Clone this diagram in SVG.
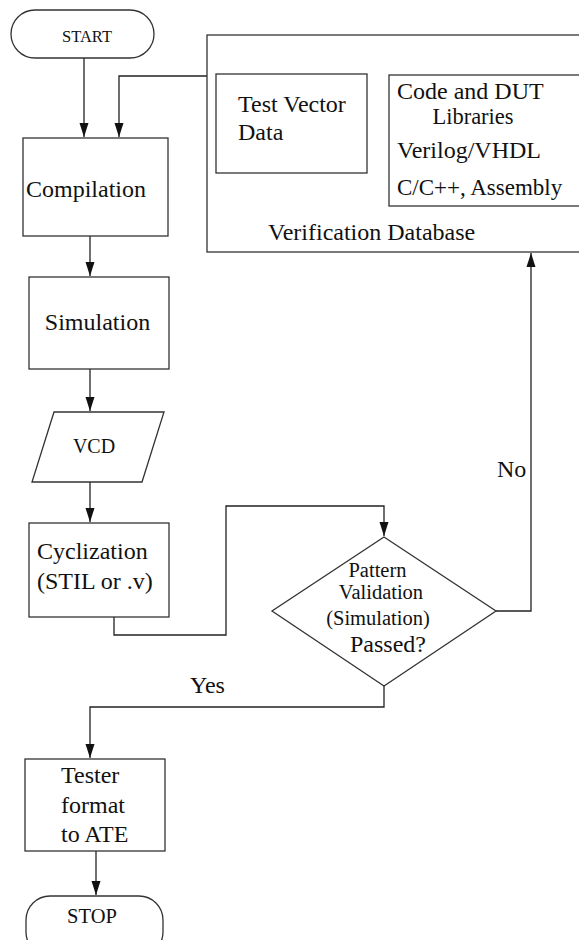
<svg xmlns="http://www.w3.org/2000/svg" width="579" height="940" viewBox="0 0 579 940">
<defs>
<style>
.s{fill:#fff;stroke:#333;stroke-width:1.3}
.c{fill:none;stroke:#222;stroke-width:1.3}
.t{font-family:"Liberation Serif","Times New Roman",serif;fill:#111;font-size:24px}
.m{text-anchor:middle}
</style>
<marker id="a" viewBox="0 0 14 10" refX="14" refY="5" markerWidth="14" markerHeight="10" markerUnits="userSpaceOnUse" orient="auto">
<path d="M0,0.5 L14,5 L0,9.5 Z" fill="#111"/>
</marker>
</defs>
<rect width="579" height="940" fill="#fff"/>
<g id="connectors">
<path class="c" d="M84,58 V137" marker-end="url(#a)"/>
<path class="c" d="M207,76 H119 V137" marker-end="url(#a)"/>
<path class="c" d="M90,236 V276" marker-end="url(#a)"/>
<path class="c" d="M90,369 V411" marker-end="url(#a)"/>
<path class="c" d="M90,482 V522" marker-end="url(#a)"/>
<path class="c" d="M114,617 V635 H226 V506 H384 V536" marker-end="url(#a)"/>
<path class="c" d="M496,611 H531 V253" marker-end="url(#a)"/>
<path class="c" d="M384,686 V707 H90 V758" marker-end="url(#a)"/>
<path class="c" d="M96,851 V895" marker-end="url(#a)"/>
</g>
<g id="start">
<rect class="s" x="11" y="10" width="143" height="48" rx="24" ry="24"/>
<text class="t m" x="87" y="42" style="font-size:16.5px">START</text>
</g>
<g id="verification-db">
<rect class="s" x="207" y="35" width="400" height="217"/>
<text class="t" x="268" y="240">Verification Database</text>
</g>
<g id="test-vector-data">
<rect class="s" x="216" y="74" width="151" height="99"/>
<text class="t" x="238" y="112">Test Vector</text>
<text class="t" x="238" y="140">Data</text>
</g>
<g id="code-libraries">
<rect class="s" x="389" y="75" width="220" height="131"/>
<text class="t" x="397" y="99">Code and DUT</text>
<text class="t m" x="473" y="124" style="font-size:22.5px">Libraries</text>
<text class="t" x="397" y="158">Verilog/VHDL</text>
<text class="t" x="397" y="195" style="font-size:23px">C/C++, Assembly</text>
</g>
<g id="compilation">
<rect class="s" x="23" y="138" width="145" height="98"/>
<text class="t" x="26" y="197">Compilation</text>
</g>
<g id="simulation">
<rect class="s" x="29" y="277" width="140" height="92"/>
<text class="t m" x="97.5" y="330">Simulation</text>
</g>
<g id="vcd">
<polygon class="s" points="54,412 164,412 142,482 32,482"/>
<text class="t m" x="94" y="453" style="font-size:20px">VCD</text>
</g>
<g id="cyclization">
<rect class="s" x="29" y="523" width="140" height="94"/>
<text class="t" x="37" y="559">Cyclization</text>
<text class="t" x="37" y="589">(STIL or .v)</text>
</g>
<g id="pattern-validation">
<polygon class="s" points="384,537 496,611 384,686 272,611"/>
<text class="t m" x="377.5" y="577" style="font-size:20.5px">Pattern</text>
<text class="t m" x="381" y="599" style="font-size:20.5px">Validation</text>
<text class="t m" x="378" y="625" style="font-size:20.5px">(Simulation)</text>
<text class="t m" x="388" y="652">Passed?</text>
</g>
<g id="labels">
<text class="t" x="497" y="477">No</text>
<text class="t" x="190" y="693">Yes</text>
</g>
<g id="tester-format">
<rect class="s" x="25" y="759" width="140" height="92"/>
<text class="t" x="61" y="783">Tester</text>
<text class="t" x="61" y="813">format</text>
<text class="t" x="61" y="842">to ATE</text>
</g>
<g id="stop">
<rect class="s" x="26" y="896" width="137" height="60" rx="24" ry="24"/>
<text class="t m" x="92" y="923" style="font-size:20.5px">STOP</text>
</g>
</svg>
